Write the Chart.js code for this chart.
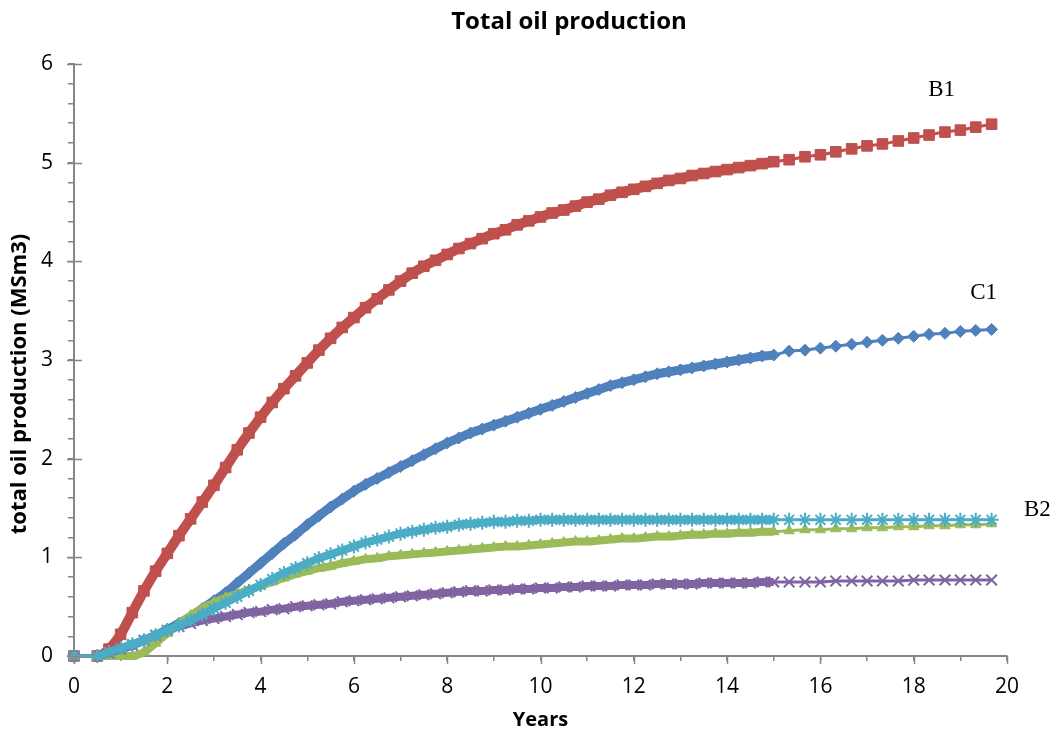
<!DOCTYPE html>
<html>
<head>
<meta charset="utf-8">
<script src="https://cdn.jsdelivr.net/npm/chart.js@4.4.1/dist/chart.umd.min.js"></script>
<style>
  body { margin: 0; background: #fff; }
  #chart { display: block; }
</style>
</head>
<body>
<canvas id="chart" width="1055" height="734"></canvas>
<script>
// time axis (years): quarterly up to 15, then every 4 months
const years = [
  0, 0.5, 0.75, 1, 1.25, 1.5, 1.75, 2, 2.25, 2.5, 2.75, 3, 3.25, 3.5, 3.75, 4,
  4.25, 4.5, 4.75, 5, 5.25, 5.5, 5.75, 6, 6.25, 6.5, 6.75, 7, 7.25, 7.5, 7.75, 8,
  8.25, 8.5, 8.75, 9, 9.25, 9.5, 9.75, 10, 10.25, 10.5, 10.75, 11, 11.25, 11.5, 11.75, 12,
  12.25, 12.5, 12.75, 13, 13.25, 13.5, 13.75, 14, 14.25, 14.5, 14.75, 15,
  15.33, 15.67, 16, 16.33, 16.67, 17, 17.33, 17.67, 18, 18.33, 18.67, 19, 19.33, 19.67
];

// total oil production (MSm3)
const c1Values = [
  0, 0, 0.03, 0.07, 0.11, 0.16, 0.21, 0.27, 0.33, 0.40, 0.48, 0.56, 0.64, 0.74, 0.84, 0.94,
  1.04, 1.14, 1.23, 1.33, 1.42, 1.51, 1.59, 1.67, 1.74, 1.80, 1.86, 1.92, 1.98, 2.04, 2.10, 2.16,
  2.21, 2.26, 2.30, 2.34, 2.38, 2.42, 2.46, 2.50, 2.54, 2.58, 2.62, 2.66, 2.70, 2.74, 2.77, 2.80,
  2.83, 2.86, 2.88, 2.90, 2.92, 2.94, 2.96, 2.98, 3.00, 3.02, 3.04, 3.05,
  3.09, 3.10, 3.12, 3.14, 3.16, 3.18, 3.20, 3.22, 3.24, 3.26, 3.27, 3.29, 3.30, 3.31
];
const b1Values = [
  0, 0, 0.07, 0.22, 0.44, 0.66, 0.86, 1.04, 1.22, 1.39, 1.56, 1.73, 1.91, 2.09, 2.26, 2.42,
  2.57, 2.71, 2.84, 2.97, 3.10, 3.22, 3.33, 3.43, 3.53, 3.62, 3.71, 3.80, 3.88, 3.95, 4.01, 4.07,
  4.13, 4.18, 4.23, 4.28, 4.32, 4.37, 4.41, 4.45, 4.49, 4.52, 4.56, 4.60, 4.63, 4.67, 4.70, 4.73,
  4.76, 4.79, 4.82, 4.84, 4.87, 4.89, 4.91, 4.93, 4.95, 4.97, 4.99, 5.01,
  5.03, 5.06, 5.08, 5.11, 5.14, 5.17, 5.19, 5.22, 5.25, 5.28, 5.31, 5.33, 5.36, 5.39
];
const case3Values = [
  0, 0, 0, 0, 0, 0.04, 0.13, 0.23, 0.32, 0.41, 0.48, 0.54, 0.59, 0.63, 0.67, 0.71,
  0.75, 0.79, 0.83, 0.86, 0.89, 0.91, 0.94, 0.96, 0.98, 0.99, 1.01, 1.02, 1.03, 1.04, 1.05, 1.06,
  1.07, 1.08, 1.09, 1.10, 1.11, 1.11, 1.12, 1.13, 1.14, 1.15, 1.16, 1.16, 1.17, 1.18, 1.19, 1.19,
  1.20, 1.21, 1.21, 1.22, 1.23, 1.23, 1.24, 1.24, 1.25, 1.25, 1.26, 1.26,
  1.27, 1.28, 1.28, 1.29, 1.29, 1.30, 1.30, 1.31, 1.31, 1.32, 1.32, 1.33, 1.33, 1.34
];
const case4Values = [
  0, 0, 0.03, 0.07, 0.11, 0.16, 0.21, 0.26, 0.30, 0.33, 0.36, 0.38, 0.40, 0.42, 0.44, 0.45,
  0.47, 0.48, 0.50, 0.51, 0.52, 0.53, 0.55, 0.56, 0.57, 0.58, 0.59, 0.60, 0.61, 0.62, 0.63, 0.64,
  0.65, 0.66, 0.66, 0.67, 0.67, 0.68, 0.68, 0.69, 0.69, 0.70, 0.70, 0.71, 0.71, 0.71, 0.72, 0.72,
  0.72, 0.73, 0.73, 0.73, 0.73, 0.74, 0.74, 0.74, 0.74, 0.74, 0.75, 0.75,
  0.75, 0.75, 0.75, 0.76, 0.76, 0.76, 0.76, 0.76, 0.77, 0.77, 0.77, 0.77, 0.77, 0.77
];
const b2Values = [
  0, 0, 0.04, 0.08, 0.12, 0.16, 0.21, 0.26, 0.31, 0.36, 0.42, 0.48, 0.54, 0.60, 0.66, 0.72,
  0.78, 0.84, 0.89, 0.94, 0.99, 1.03, 1.07, 1.11, 1.15, 1.18, 1.21, 1.24, 1.26, 1.28, 1.30, 1.31,
  1.33, 1.34, 1.35, 1.36, 1.36, 1.37, 1.37, 1.38, 1.38, 1.38, 1.38, 1.38, 1.38, 1.38, 1.38, 1.38,
  1.38, 1.38, 1.38, 1.38, 1.38, 1.38, 1.38, 1.38, 1.38, 1.38, 1.38, 1.38,
  1.38, 1.38, 1.38, 1.38, 1.38, 1.38, 1.38, 1.38, 1.38, 1.38, 1.38, 1.38, 1.38, 1.38
];

// curve labels written next to the curves (data coordinates)
const labelNames = ['B1', 'C1', 'B2'];
const labelYears = [18.6, 19.5, 20.65];
const labelValues = [5.74, 3.68, 1.48];

const chartTitle = 'Total oil production';
const yTitle = 'total oil production (MSm3)';

const toPoints = (values) => {
  let pts = [];
  for (let i = 0; i < years.length; i++) {
    pts.push({ x: years[i], y: values[i] });
  }
  return pts;
}

// thick band where the points are dense, thin line elsewhere
const bandWidth = (w) => (ctx) => {
  let x0 = ctx.p0.parsed.x;
  return (x0 < 0.4 || x0 >= 15) ? 3 : w;
}

const makeSeries = (label, values, color, style, radius, band) => ({
  label: label,
  data: toPoints(values),
  showLine: true,
  borderColor: color,
  backgroundColor: color,
  borderWidth: 3,
  pointStyle: style,
  pointRadius: radius,
  pointBorderColor: color,
  pointBackgroundColor: color,
  pointBorderWidth: (style === 'star' || style === 'crossRot') ? 2 : 1,
  cubicInterpolationMode: 'monotone',
  clip: false,
  segment: { borderWidth: bandWidth(band) }
});

// first dataset is drawn on top
const datasets = [
  makeSeries('B2', b2Values, '#4BACC6', 'star', 7, 8),
  makeSeries('Case 4', case4Values, '#8064A2', 'crossRot', 7.5, 8),
  makeSeries('Case 3', case3Values, '#9BBB59', 'triangle', 6, 8),
  makeSeries('B1', b1Values, '#C0504D', 'rect', 7.5, 10),
  makeSeries('C1', c1Values, '#4F81BD', 'rectRot', 6, 9)
];

const axisGray = '#868686';
const sansFont = '"Open Sans", sans-serif';

// chart title, y-axis title and curve names
const chartTexts = {
  id: 'chartTexts',
  afterDraw(chart) {
    const c = chart.ctx;
    const xs = chart.scales.x, ys = chart.scales.y;
    c.save();
    c.fillStyle = '#000';
    c.textAlign = 'center';
    c.textBaseline = 'middle';

    c.font = 'bold 24px ' + sansFont;
    c.fillText(chartTitle, 569, 22);

    c.save();
    c.translate(20, 384);
    c.rotate(-Math.PI / 2);
    c.font = 'bold 22px ' + sansFont;
    c.fillText(yTitle, 0, 0);
    c.restore();

    c.font = '23px "Liberation Serif", "Times New Roman", serif';
    for (let i = 0; i < labelNames.length; i++) {
      c.fillText(labelNames[i], xs.getPixelForValue(labelYears[i]), ys.getPixelForValue(labelValues[i]));
    }
    c.restore();
  }
};

// longer major tick marks like the original axes
const majorTicks = {
  id: 'majorTicks',
  afterDraw(chart) {
    const c = chart.ctx;
    const xs = chart.scales.x, ys = chart.scales.y;
    const area = chart.chartArea;
    c.save();
    c.strokeStyle = axisGray;
    c.lineWidth = 1.5;
    c.beginPath();
    for (let v = 0; v <= 6; v++) {
      let py = Math.round(ys.getPixelForValue(v)) + 0.5;
      c.moveTo(area.left - 7, py);
      c.lineTo(area.left + 8, py);
    }
    for (let t = 0; t <= 20; t += 2) {
      let px = Math.round(xs.getPixelForValue(t)) + 0.5;
      c.moveTo(px, area.bottom);
      c.lineTo(px, area.bottom + 8);
    }
    c.stroke();
    c.restore();
  }
};

const isWhole = (v) => Math.abs(v - Math.round(v)) < 1e-6;

new Chart(document.getElementById('chart').getContext('2d'), {
  type: 'scatter',
  data: { datasets: datasets },
  plugins: [chartTexts, majorTicks],
  options: {
    responsive: false,
    animation: false,
    layout: { padding: { left: 0, right: 48, top: 64, bottom: 0 } },
    plugins: {
      legend: { display: false },
      tooltip: { enabled: false },
      title: { display: false }
    },
    scales: {
      x: {
        type: 'linear',
        min: 0,
        max: 20,
        ticks: {
          stepSize: 1,
          autoSkip: false,
          maxRotation: 0,
          padding: 13,
          color: '#000',
          font: { family: sansFont, size: 21 },
          callback: (v) => (isWhole(v) && Math.round(v) % 2 === 0) ? Math.round(v) : ''
        },
        grid: { drawOnChartArea: false, tickLength: 5, color: axisGray, lineWidth: 1.5 },
        border: { color: axisGray, width: 2 },
        title: {
          display: true,
          text: 'Years',
          color: '#000',
          font: { family: sansFont, size: 20, weight: 'bold' },
          padding: { top: 0, bottom: 2 }
        },
        afterFit: (scale) => { scale.height = 78; }
      },
      y: {
        min: 0,
        max: 6,
        ticks: {
          stepSize: 0.2,
          autoSkip: false,
          padding: 15,
          color: '#000',
          font: { family: sansFont, size: 21 },
          callback: (v) => isWhole(v) ? Math.round(v) : ''
        },
        grid: { drawOnChartArea: false, tickLength: 6, color: axisGray, lineWidth: 1.5 },
        border: { color: axisGray, width: 2 },
        title: { display: false },
        afterFit: (scale) => { scale.width = 74; }
      }
    }
  }
});
</script>
</body>
</html>
